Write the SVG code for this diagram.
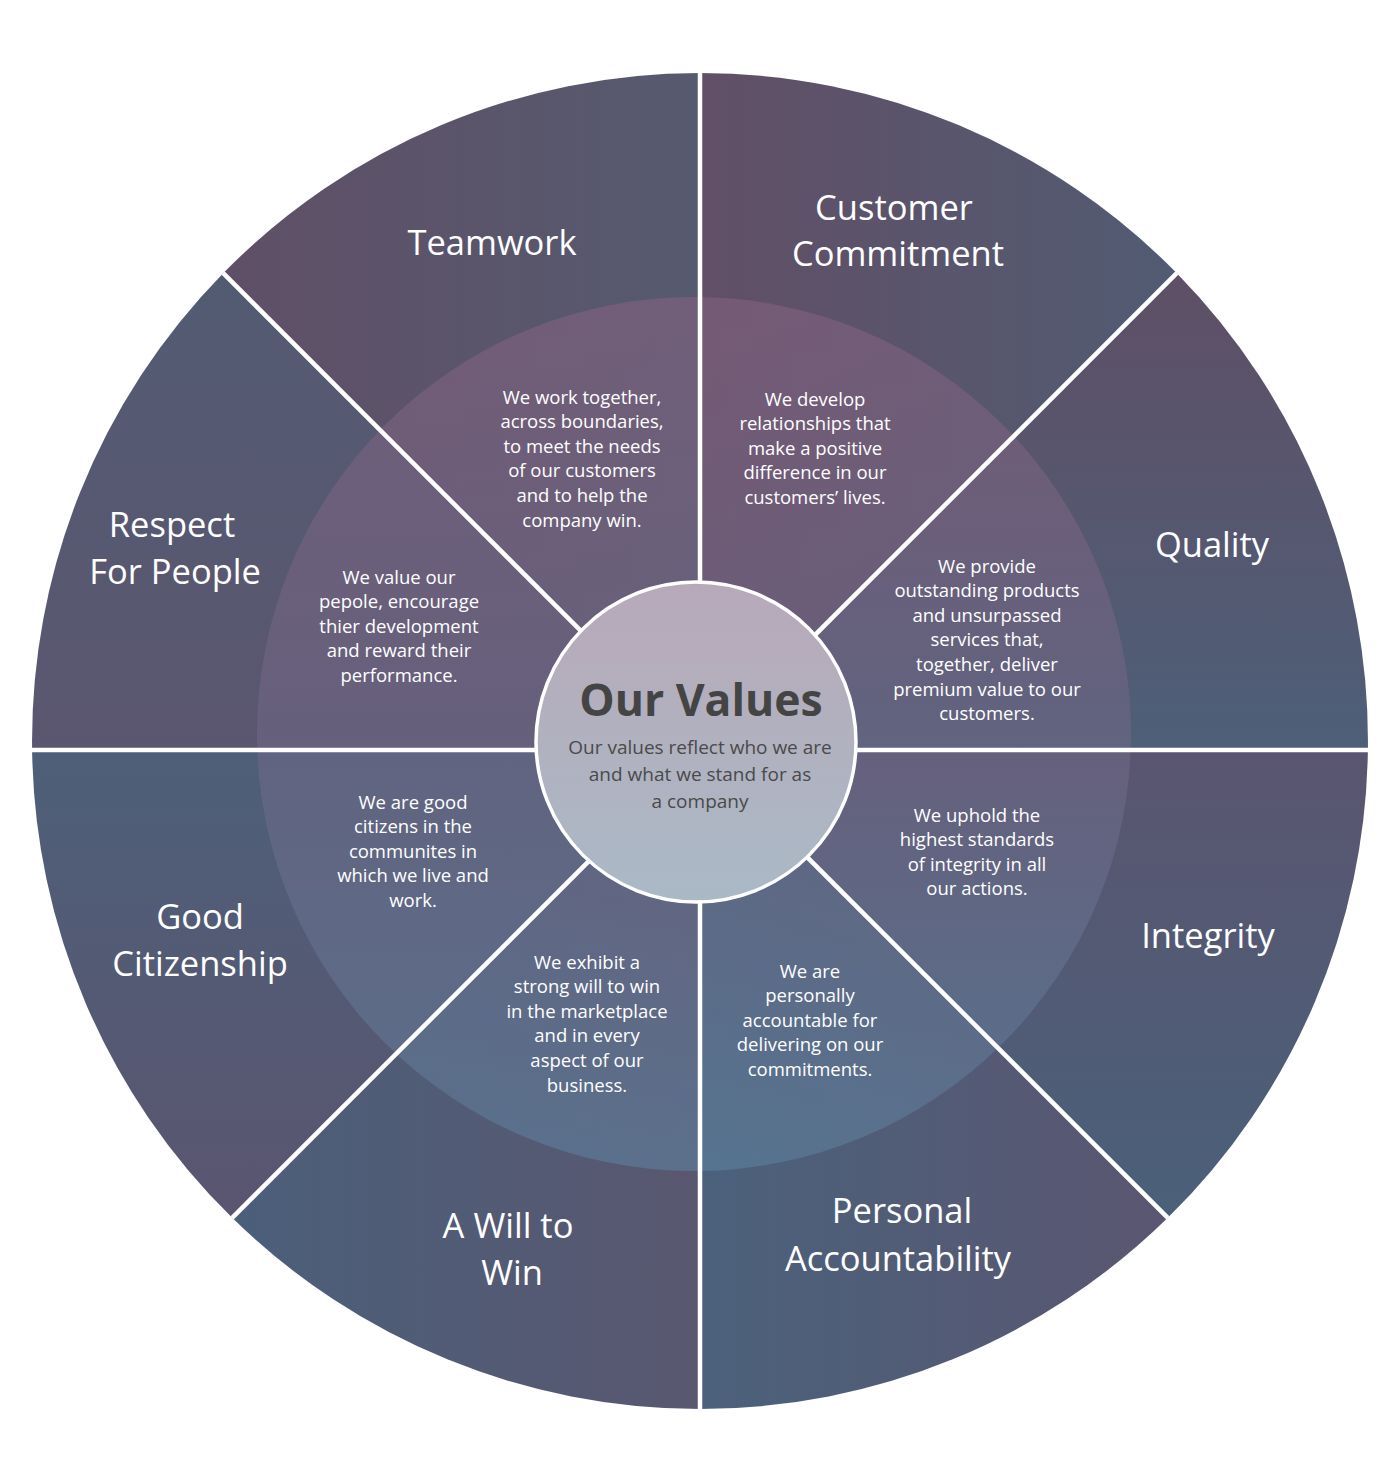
<svg xmlns="http://www.w3.org/2000/svg" width="1400" height="1483" viewBox="0 0 1400 1483">
<style>
.title{font-family:"Open Sans","Liberation Sans",sans-serif;font-size:34.5px;fill:#ffffff;text-anchor:middle}
.desc{font-family:"Open Sans","Liberation Sans",sans-serif;font-size:18.5px;fill:#ffffff;text-anchor:middle}
.inner{fill:url(#gInner);opacity:0.6}
.div{stroke:#ffffff;stroke-width:4.5;fill:none}
</style>
<defs>
<linearGradient id="gTeam" x1="0" y1="0.5" x2="1" y2="0.5"><stop offset="0" stop-color="#5f4f66"/><stop offset="1" stop-color="#565a6f"/></linearGradient>
<linearGradient id="gCust" x1="0" y1="0.5" x2="1" y2="0.5"><stop offset="0" stop-color="#614f66"/><stop offset="1" stop-color="#515b72"/></linearGradient>
<linearGradient id="gQual" x1="0.5" y1="0" x2="0.5" y2="1"><stop offset="0" stop-color="#5e4f66"/><stop offset="1" stop-color="#4e5f78"/></linearGradient>
<linearGradient id="gInt" x1="0.5" y1="0" x2="0.5" y2="1"><stop offset="0" stop-color="#5a5570"/><stop offset="1" stop-color="#4a6079"/></linearGradient>
<linearGradient id="gPers" x1="1" y1="0.5" x2="0" y2="0.5"><stop offset="0" stop-color="#5a5671"/><stop offset="1" stop-color="#4b617b"/></linearGradient>
<linearGradient id="gWill" x1="1" y1="0.5" x2="0" y2="0.5"><stop offset="0" stop-color="#595770"/><stop offset="1" stop-color="#4b5f7a"/></linearGradient>
<linearGradient id="gGood" x1="0.5" y1="1" x2="0.5" y2="0"><stop offset="0" stop-color="#5a5570"/><stop offset="1" stop-color="#4e5f78"/></linearGradient>
<linearGradient id="gResp" x1="0.5" y1="1" x2="0.5" y2="0"><stop offset="0" stop-color="#5b5670"/><stop offset="1" stop-color="#525b72"/></linearGradient>
<linearGradient id="gInner" gradientUnits="userSpaceOnUse" x1="0" y1="297" x2="0" y2="1171"><stop offset="0" stop-color="#83617f"/><stop offset="0.5" stop-color="#6e6684"/><stop offset="1" stop-color="#5d809d"/></linearGradient>
<linearGradient id="gCenter" x1="0" y1="0" x2="0" y2="1"><stop offset="0" stop-color="#b8a9b9"/><stop offset="1" stop-color="#aab9c6"/></linearGradient>
<clipPath id="cTeam"><path d="M700 750 L223.2 273.2 A668 668 0 0 1 700 73 Z"/></clipPath>
<clipPath id="cCust"><path d="M700 750 L700 73 A668 668 0 0 1 1176.8 273.2 Z"/></clipPath>
<clipPath id="cQual"><path d="M700 750 L1176.8 273.2 A668 668 0 0 1 1367.9 750 Z"/></clipPath>
<clipPath id="cInt"><path d="M700 750 L1367.9 750 A668 668 0 0 1 1167.8 1217.8 Z"/></clipPath>
<clipPath id="cPers"><path d="M700 750 L1167.8 1217.8 A668 668 0 0 1 700 1409 Z"/></clipPath>
<clipPath id="cWill"><path d="M700 750 L700 1409 A668 668 0 0 1 232.2 1217.8 Z"/></clipPath>
<clipPath id="cGood"><path d="M700 750 L232.2 1217.8 A668 668 0 0 1 32.1 750 Z"/></clipPath>
<clipPath id="cResp"><path d="M700 750 L32.1 750 A668 668 0 0 1 223.2 273.2 Z"/></clipPath>
</defs>

<g id="teamwork">
<path d="M700 750 L223.2 273.2 A668 668 0 0 1 700 73 Z" fill="url(#gTeam)"/>
<circle class="inner" cx="694" cy="734" r="437" clip-path="url(#cTeam)"/>
<text class="title" x="492" y="255">Teamwork</text>
<text class="desc" x="582" y="403.5">We work together,<tspan x="582" dy="24.6">across boundaries,</tspan><tspan x="582" dy="24.6">to meet the needs</tspan><tspan x="582" dy="24.6">of our customers</tspan><tspan x="582" dy="24.6">and to help the</tspan><tspan x="582" dy="24.6">company win.</tspan></text>
</g>

<g id="customer-commitment">
<path d="M700 750 L700 73 A668 668 0 0 1 1176.8 273.2 Z" fill="url(#gCust)"/>
<circle class="inner" cx="694" cy="734" r="437" clip-path="url(#cCust)"/>
<text class="title" x="894" y="220">Customer<tspan x="898" dy="46">Commitment</tspan></text>
<text class="desc" x="815" y="405.5">We develop<tspan x="815" dy="24.6">relationships that</tspan><tspan x="815" dy="24.6">make a positive</tspan><tspan x="815" dy="24.6">difference in our</tspan><tspan x="815" dy="24.6">customers’ lives.</tspan></text>
</g>

<g id="quality">
<path d="M700 750 L1176.8 273.2 A668 668 0 0 1 1367.9 750 Z" fill="url(#gQual)"/>
<circle class="inner" cx="694" cy="734" r="437" clip-path="url(#cQual)"/>
<text class="title" x="1212" y="557">Quality</text>
<text class="desc" x="987" y="572.5">We provide<tspan x="987" dy="24.6">outstanding products</tspan><tspan x="987" dy="24.6">and unsurpassed</tspan><tspan x="987" dy="24.6">services that,</tspan><tspan x="987" dy="24.6">together, deliver</tspan><tspan x="987" dy="24.6">premium value to our</tspan><tspan x="987" dy="24.6">customers.</tspan></text>
</g>

<g id="integrity">
<path d="M700 750 L1367.9 750 A668 668 0 0 1 1167.8 1217.8 Z" fill="url(#gInt)"/>
<circle class="inner" cx="694" cy="734" r="437" clip-path="url(#cInt)"/>
<text class="title" x="1208" y="948">Integrity</text>
<text class="desc" x="977" y="821.5">We uphold the<tspan x="977" dy="24.6">highest standards</tspan><tspan x="977" dy="24.6">of integrity in all</tspan><tspan x="977" dy="24.6">our actions.</tspan></text>
</g>

<g id="personal-accountability">
<path d="M700 750 L1167.8 1217.8 A668 668 0 0 1 700 1409 Z" fill="url(#gPers)"/>
<circle class="inner" cx="694" cy="734" r="437" clip-path="url(#cPers)"/>
<text class="title" x="902" y="1223">Personal<tspan x="898" dy="48">Accountability</tspan></text>
<text class="desc" x="810" y="977.5">We are<tspan x="810" dy="24.6">personally</tspan><tspan x="810" dy="24.6">accountable for</tspan><tspan x="810" dy="24.6">delivering on our</tspan><tspan x="810" dy="24.6">commitments.</tspan></text>
</g>

<g id="a-will-to-win">
<path d="M700 750 L700 1409 A668 668 0 0 1 232.2 1217.8 Z" fill="url(#gWill)"/>
<circle class="inner" cx="694" cy="734" r="437" clip-path="url(#cWill)"/>
<text class="title" x="508" y="1238">A Will to<tspan x="512" dy="47">Win</tspan></text>
<text class="desc" x="587" y="968.5">We exhibit a<tspan x="587" dy="24.6">strong will to win</tspan><tspan x="587" dy="24.6">in the marketplace</tspan><tspan x="587" dy="24.6">and in every</tspan><tspan x="587" dy="24.6">aspect of our</tspan><tspan x="587" dy="24.6">business.</tspan></text>
</g>

<g id="good-citizenship">
<path d="M700 750 L232.2 1217.8 A668 668 0 0 1 32.1 750 Z" fill="url(#gGood)"/>
<circle class="inner" cx="694" cy="734" r="437" clip-path="url(#cGood)"/>
<text class="title" x="200" y="929">Good<tspan x="200" dy="47">Citizenship</tspan></text>
<text class="desc" x="413" y="808.5">We are good<tspan x="413" dy="24.6">citizens in the</tspan><tspan x="413" dy="24.6">communites in</tspan><tspan x="413" dy="24.6">which we live and</tspan><tspan x="413" dy="24.6">work.</tspan></text>
</g>

<g id="respect-for-people">
<path d="M700 750 L32.1 750 A668 668 0 0 1 223.2 273.2 Z" fill="url(#gResp)"/>
<circle class="inner" cx="694" cy="734" r="437" clip-path="url(#cResp)"/>
<text class="title" x="172" y="537">Respect<tspan x="175" dy="47">For People</tspan></text>
<text class="desc" x="399" y="583.5">We value our<tspan x="399" dy="24.6">pepole, encourage</tspan><tspan x="399" dy="24.6">thier development</tspan><tspan x="399" dy="24.6">and reward their</tspan><tspan x="399" dy="24.6">performance.</tspan></text>
</g>

<g id="dividers">
<line class="div" x1="700" y1="750" x2="700" y2="60"/>
<line class="div" x1="700" y1="750" x2="700" y2="1420"/>
<line class="div" x1="700" y1="750" x2="20" y2="750"/>
<line class="div" x1="700" y1="750" x2="1380" y2="750"/>
<line class="div" x1="700" y1="750" x2="223.2" y2="273.2"/>
<line class="div" x1="700" y1="750" x2="1176.8" y2="273.2"/>
<line class="div" x1="700" y1="750" x2="232.2" y2="1217.8"/>
<line class="div" x1="700" y1="750" x2="1167.8" y2="1217.8"/>
</g>

<g id="our-values">
<circle cx="696" cy="742" r="160" fill="url(#gCenter)" stroke="#ffffff" stroke-width="3.5"/>
<text x="701" y="716" font-family="'Open Sans','Liberation Sans',sans-serif" font-size="44.5" font-weight="bold" fill="#444444" text-anchor="middle">Our Values</text>
<text x="700" y="754" font-family="'Open Sans','Liberation Sans',sans-serif" font-size="19" fill="#4a4a4a" text-anchor="middle">Our values reflect who we are<tspan x="700" dy="27">and what we stand for as</tspan><tspan x="700" dy="27">a company</tspan></text>
</g>
</svg>
